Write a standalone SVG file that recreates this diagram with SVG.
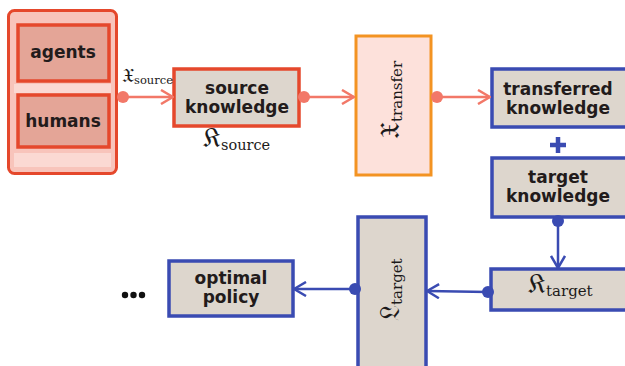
<svg xmlns="http://www.w3.org/2000/svg" width="625" height="366" viewBox="0 0 625 366">
<defs>
<style>
.lbl{font-family:"DejaVu Sans","Liberation Sans",sans-serif;font-weight:bold;font-size:17px;fill:#221b1b;text-anchor:middle}
.math{font-family:"DejaVu Serif","DejaVu Sans","Liberation Serif",serif;fill:#1c1a1a}
.redbox{fill:#ddd6cd;stroke:#e5482c;stroke-width:3.5}
.bluebox{fill:#ddd6cd;stroke:#3a4bb2;stroke-width:3.5}
.ra{stroke:#f27868;stroke-width:2.5;fill:none}
.ba{stroke:#3a4bb2;stroke-width:2.5;fill:none}
.rd{fill:#f27868}
.bd{fill:#3a4bb2}
</style>
<marker id="hr" viewBox="0 0 14 16" refX="13" refY="8" markerWidth="14" markerHeight="16" markerUnits="userSpaceOnUse" orient="auto">
<path d="M1,1 L13,8 L1,15" fill="none" stroke="#f27868" stroke-width="2.5"/>
</marker>
<marker id="hb" viewBox="0 0 14 16" refX="13" refY="8" markerWidth="14" markerHeight="16" markerUnits="userSpaceOnUse" orient="auto">
<path d="M1,1 L13,8 L1,15" fill="none" stroke="#3a4bb2" stroke-width="2.5"/>
</marker>
</defs>
<rect width="625" height="366" fill="#ffffff"/>

<g id="sources">
<rect x="8.5" y="10.5" width="108" height="163" rx="6" fill="#f8c4bb" stroke="#e5482c" stroke-width="3"/>
<rect x="14" y="84" width="97" height="9" fill="#fbd9d3"/>
<rect x="14" y="153" width="97" height="14" fill="#fbd9d3"/>
</g>
<g id="agents">
<rect x="18" y="25" width="91" height="56" fill="#e4a597" stroke="#e5482c" stroke-width="3.5"/>
<text class="lbl" x="63" y="58">agents</text>
</g>
<g id="humans">
<rect x="18" y="95" width="91" height="52" fill="#e4a597" stroke="#e5482c" stroke-width="3.5"/>
<text class="lbl" x="63" y="127">humans</text>
</g>

<g id="source-knowledge">
<rect class="redbox" x="174" y="69" width="125" height="57"/>
<text class="lbl" x="237" y="94">source</text>
<text class="lbl" x="237" y="113">knowledge</text>
<text class="math" x="203" y="147" font-size="27">𝔎<tspan font-size="14.5" dy="3">source</tspan></text>
</g>

<g id="transfer">
<rect x="356" y="36" width="75" height="139" fill="#fde1db" stroke="#f39322" stroke-width="3"/>
<text class="math" transform="translate(399,139) rotate(-90)" font-size="27">𝔛<tspan font-size="15" dy="3">transfer</tspan></text>
</g>

<g id="transferred-knowledge">
<rect class="bluebox" x="492" y="69" width="136" height="58"/>
<text class="lbl" x="558" y="95">transferred</text>
<text class="lbl" x="558" y="114">knowledge</text>
</g>
<g id="plus">
<path d="M558,137 V153 M550,145 H566" stroke="#3a4bb2" stroke-width="4.5"/>
</g>
<g id="target-knowledge">
<rect class="bluebox" x="492" y="158" width="136" height="59"/>
<text class="lbl" x="558" y="183">target</text>
<text class="lbl" x="558" y="202">knowledge</text>
</g>

<g id="k-target">
<rect class="bluebox" x="491" y="269" width="137" height="41"/>
<text class="math" x="528" y="293" font-size="27">𝔎<tspan font-size="15" dy="3">target</tspan></text>
</g>

<g id="l-target">
<rect class="bluebox" x="358" y="217" width="68" height="152"/>
<text class="math" transform="translate(399,321) rotate(-90)" font-size="27">𝔏<tspan font-size="15" dy="3">target</tspan></text>
</g>

<g id="optimal-policy">
<rect class="bluebox" x="169" y="261" width="124" height="55"/>
<text class="lbl" x="231" y="284">optimal</text>
<text class="lbl" x="231" y="303">policy</text>
</g>

<g id="ellipsis">
<circle cx="125" cy="295" r="3.2" fill="#111"/>
<circle cx="133.5" cy="295" r="3.2" fill="#111"/>
<circle cx="142" cy="295" r="3.2" fill="#111"/>
</g>

<g id="connectors">
<text class="math" x="122" y="82" font-size="20">𝔛<tspan font-size="11.5" dy="2">source</tspan></text>
<circle class="rd" cx="123" cy="97" r="6"/>
<line class="ra" x1="123" y1="97" x2="173" y2="97" marker-end="url(#hr)"/>
<circle class="rd" cx="304" cy="97" r="6"/>
<line class="ra" x1="304" y1="97" x2="354" y2="97" marker-end="url(#hr)"/>
<circle class="rd" cx="437" cy="97" r="6"/>
<line class="ra" x1="437" y1="97" x2="490" y2="97" marker-end="url(#hr)"/>
<circle class="bd" cx="558" cy="221" r="6"/>
<line class="ba" x1="558" y1="221" x2="558" y2="268" marker-end="url(#hb)"/>
<circle class="bd" cx="488" cy="292" r="6"/>
<line class="ba" x1="488" y1="292" x2="427" y2="291" marker-end="url(#hb)"/>
<circle class="bd" cx="355" cy="289" r="6"/>
<line class="ba" x1="355" y1="289" x2="294" y2="289" marker-end="url(#hb)"/>
</g>
</svg>
